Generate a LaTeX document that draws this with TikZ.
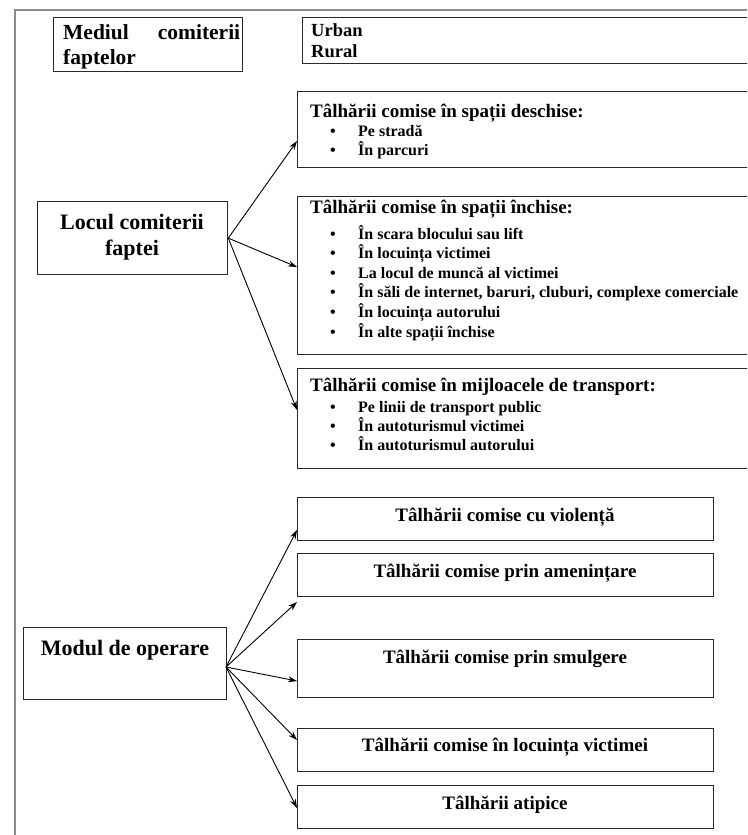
\documentclass[tikz,border=0pt]{standalone}
\usepackage{fontspec}
\setmainfont{Liberation Serif}
\usetikzlibrary{arrows.meta}
\definecolor{boxc}{HTML}{2A2A2A}
\definecolor{framec}{HTML}{8C8C8C}
\begin{document}
\begin{tikzpicture}[x=1pt,y=-1pt,
  bx/.style={draw=boxc, line width=1.3pt, inner sep=0pt, anchor=north west, rectangle},
  head/.style={font=\fontsize{22}{26}\selectfont\bfseries, inner sep=0pt},
  medf/.style={font=\fontsize{21.5}{26}\selectfont\bfseries, inner sep=0pt, anchor=base west},
  urf/.style={font=\fontsize{18.5}{22}\selectfont\bfseries, inner sep=0pt, anchor=base west},
  ttl/.style={font=\fontsize{19}{23}\selectfont\bfseries, inner sep=0pt, anchor=base west},
  ctl/.style={font=\fontsize{19}{23}\selectfont\bfseries, inner sep=0pt, anchor=base},
  itm/.style={font=\fontsize{16}{19.6}\selectfont\bfseries, inner sep=0pt, anchor=base west},
  arr/.style={draw=black, line width=0.9pt, -{Stealth[length=9pt,width=6pt]}},
  frame/.style={draw=framec, line width=1.2pt}
]
\useasboundingbox (0,0) rectangle (747,835);
\fill[white] (0,0) rectangle (747,835);
\clip (0,0) rectangle (747,835);

% outer frame
\draw[frame] (15,835) -- (15,10) -- (760,10);

% Mediul comiterii faptelor
\node[bx, minimum width=189pt, minimum height=54pt] (mediul) at (53,17) {};
\node[medf] (mediul1) at (63,39) {\makebox[177pt][s]{Mediul comiterii}};
\node[medf] (mediul2) at (63,64) {faptelor};

% Urban / Rural
\node[bx, minimum width=470pt, minimum height=46pt] (urban) at (302,17) {};
\node[urf] (urban1) at (311,36) {Urban};
\node[urf] (urban2) at (311,57) {Rural};

% Locul comiterii faptei
\node[bx, minimum width=190pt, minimum height=73pt] (locul) at (37,201) {};
\node[head, anchor=base] (locul1) at (132,229) {Locul comiterii};
\node[head, anchor=base] (locul2) at (132,255) {faptei};

% open spaces
\node[bx, minimum width=475pt, minimum height=76pt] (open) at (297,91) {};
\node[ttl] (open0) at (310,117.5) {Tâlhării comise în spații deschise:};
\node[itm] (open1) at (330,136.5) {\makebox[28pt][l]{•}Pe stradă};
\node[itm] (open2) at (330,155) {\makebox[28pt][l]{•}În parcuri};

% closed spaces
\node[bx, minimum width=475pt, minimum height=158pt] (closed) at (297,196) {};
\node[ttl] (closed0) at (310,213) {Tâlhării comise în spații închise:};
\node[itm] (closed1) at (330,239) {\makebox[28pt][l]{•}În scara blocului sau lift};
\node[itm] (closed2) at (330,258.6) {\makebox[28pt][l]{•}În locuința victimei};
\node[itm] (closed3) at (330,278.2) {\makebox[28pt][l]{•}La locul de muncă al victimei};
\node[itm] (closed4) at (330,297.8) {\makebox[28pt][l]{•}În săli de internet, baruri, cluburi, complexe comerciale};
\node[itm] (closed5) at (330,317.4) {\makebox[28pt][l]{•}În locuința autorului};
\node[itm] (closed6) at (330,337) {\makebox[28pt][l]{•}În alte spații închise};

% transport
\node[bx, minimum width=475pt, minimum height=100pt] (transp) at (297,368) {};
\node[ttl] (transp0) at (310,391.5) {Tâlhării comise în mijloacele de transport:};
\node[itm] (transp1) at (330,412.5) {\makebox[28pt][l]{•}Pe linii de transport public};
\node[itm] (transp2) at (330,431.5) {\makebox[28pt][l]{•}În autoturismul victimei};
\node[itm] (transp3) at (330,450.5) {\makebox[28pt][l]{•}În autoturismul autorului};

% Modul de operare
\node[bx, minimum width=203pt, minimum height=72pt] (modul) at (23,627) {};
\node[head, anchor=base] (modul1) at (125,655.5) {Modul de operare};

\node[bx, minimum width=416pt, minimum height=43pt] (viol) at (297,497) {};
\node[ctl] (viol1) at (505,521.5) {Tâlhării comise cu violență};
\node[bx, minimum width=416pt, minimum height=43pt] (amen) at (297,553) {};
\node[ctl] (amen1) at (505,577.5) {Tâlhării comise prin amenințare};
\node[bx, minimum width=416pt, minimum height=58pt] (smul) at (297,639) {};
\node[ctl] (smul1) at (505,663) {Tâlhării comise prin smulgere};
\node[bx, minimum width=416pt, minimum height=43pt] (locv) at (297,728) {};
\node[ctl] (locv1) at (505,751.5) {Tâlhării comise în locuința victimei};
\node[bx, minimum width=416pt, minimum height=43pt] (atip) at (297,785) {};
\node[ctl] (atip1) at (505,809) {Tâlhării atipice};

% arrow targets
\coordinate (a1) at (297,141);
\coordinate (a2) at (297,267);
\coordinate (a3) at (297,410);
\coordinate (m0) at (226,667);
\coordinate (b1) at (297,530);
\coordinate (b2) at (297,602);
\coordinate (b3) at (297,681);
\coordinate (b4) at (297,740);
\coordinate (b5) at (297,808);

\draw[arr] (locul.east) -- (a1);
\draw[arr] (locul.east) -- (a2);
\draw[arr] (locul.east) -- (a3);
\foreach \b in {b1,b2,b3,b4,b5} \draw[arr] (m0) -- (\b);
\end{tikzpicture}
\end{document}
